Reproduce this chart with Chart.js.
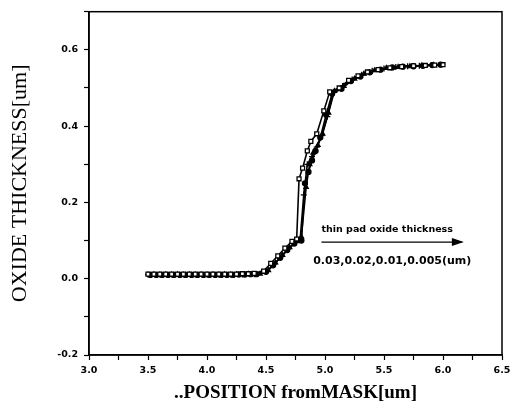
<!DOCTYPE html>
<html>
<head>
<meta charset="utf-8">
<script src="https://cdn.jsdelivr.net/npm/chart.js@4"></script>
<style>
    html, body { margin: 0; padding: 0; background: #fff; }
    #wrap { width: 522px; height: 412px; }
</style>
</head>
<body>
<div id="wrap"><canvas id="myChart" width="522" height="412"></canvas></div>
<script>
(function () {
    "use strict";

    // series, one per pad oxide thickness
    var seriesNames = ["0.03", "0.02", "0.01", "0.005"];

    var xA = [3.50, 3.55, 3.60, 3.65, 3.70, 3.75, 3.80, 3.85, 3.90, 3.95, 4.00, 4.05, 4.10, 4.15, 4.20, 4.25, 4.30, 4.35, 4.40, 4.48, 4.54, 4.60, 4.66, 4.72, 4.76, 4.78, 4.81, 4.85, 4.88, 4.93, 4.99, 5.04, 5.12, 5.20, 5.28, 5.36, 5.45, 5.55, 5.65, 5.75, 5.85, 5.93, 6.00];
    var yA = [0.012, 0.012, 0.012, 0.012, 0.012, 0.012, 0.012, 0.012, 0.012, 0.012, 0.012, 0.012, 0.012, 0.012, 0.012, 0.012, 0.013, 0.013, 0.014, 0.020, 0.040, 0.060, 0.080, 0.098, 0.104, 0.262, 0.290, 0.335, 0.360, 0.380, 0.440, 0.490, 0.500, 0.520, 0.532, 0.542, 0.548, 0.553, 0.556, 0.558, 0.559, 0.560, 0.561];

    var xB = [3.52, 3.57, 3.62, 3.67, 3.72, 3.77, 3.82, 3.87, 3.92, 3.97, 4.02, 4.07, 4.12, 4.17, 4.22, 4.27, 4.32, 4.37, 4.42, 4.50, 4.56, 4.62, 4.68, 4.74, 4.80, 4.83, 4.86, 4.89, 4.92, 4.96, 5.01, 5.06, 5.14, 5.22, 5.30, 5.38, 5.47, 5.57, 5.66, 5.75, 5.83, 5.91, 5.98];
    var yB = [0.010, 0.010, 0.010, 0.010, 0.010, 0.010, 0.010, 0.010, 0.010, 0.010, 0.010, 0.010, 0.010, 0.010, 0.010, 0.011, 0.011, 0.012, 0.012, 0.018, 0.035, 0.055, 0.075, 0.092, 0.100, 0.250, 0.280, 0.310, 0.335, 0.370, 0.430, 0.485, 0.498, 0.518, 0.530, 0.541, 0.548, 0.554, 0.556, 0.557, 0.558, 0.560, 0.561];

    var xC = [3.50, 3.60, 3.70, 3.80, 3.90, 4.00, 4.10, 4.20, 4.30, 4.40, 4.50, 4.57, 4.63, 4.69, 4.75, 4.79, 4.82, 4.85, 4.89, 4.93, 4.97, 5.02, 5.07, 5.15, 5.23, 5.31, 5.40, 5.50, 5.60, 5.70, 5.80, 5.90];
    var yC = [0.011, 0.011, 0.011, 0.011, 0.011, 0.011, 0.011, 0.011, 0.011, 0.012, 0.018, 0.038, 0.058, 0.078, 0.095, 0.105, 0.220, 0.300, 0.320, 0.345, 0.375, 0.425, 0.488, 0.505, 0.522, 0.535, 0.545, 0.551, 0.555, 0.557, 0.558, 0.560];

    var xD = [3.55, 3.65, 3.75, 3.85, 3.95, 4.05, 4.15, 4.25, 4.35, 4.45, 4.52, 4.58, 4.64, 4.70, 4.76, 4.80, 4.84, 4.87, 4.90, 4.94, 4.98, 5.03, 5.08, 5.16, 5.25, 5.33, 5.42, 5.52, 5.62, 5.72, 5.82, 5.92];
    var yD = [0.011, 0.011, 0.011, 0.011, 0.011, 0.011, 0.011, 0.011, 0.012, 0.013, 0.022, 0.042, 0.062, 0.082, 0.098, 0.110, 0.240, 0.300, 0.330, 0.350, 0.380, 0.435, 0.492, 0.505, 0.524, 0.537, 0.546, 0.552, 0.555, 0.557, 0.559, 0.560];

    var xTicks = { min: 3.0, max: 6.5, step: 0.25 };
    var yTicks = { min: -0.2, max: 0.7, step: 0.1 };

    var noteTop = "thin pad oxide thickness";
    var noteBottom = "0.03,0.02,0.01,0.005(um)";

    function pts(xs, ys) {
        return xs.map(function (x, i) { return { x: x, y: ys[i] }; });
    }

    function label(v, per) {
        if (Math.round(v * per) % 2 !== 0) return "";
        var s = v.toFixed(1);
        return s === "-0.0" ? "0.0" : s;
    }

    var styles = [
        { pointStyle: "rect", fill: "#fff", radius: 2.8 },
        { pointStyle: "circle", fill: "#000", radius: 2.5 },
        { pointStyle: "cross", fill: "#000", radius: 3 },
        { pointStyle: "triangle", fill: "#000", radius: 2.5 }
    ];
    var xsAll = [xA, xB, xC, xD];
    var ysAll = [yA, yB, yC, yD];

    var datasets = seriesNames.map(function (name, i) {
        return {
            label: name,
            data: pts(xsAll[i], ysAll[i]),
            borderColor: "#000",
            borderWidth: 1.6,
            pointStyle: styles[i].pointStyle,
            pointRadius: styles[i].radius,
            pointBackgroundColor: styles[i].fill,
            pointBorderColor: "#000",
            pointBorderWidth: 1.3,
            showLine: true,
            tension: 0
        };
    });

    // frame + arrow note
    var extras = {
        id: "extras",
        afterDraw: function (chart) {
            var c = chart.ctx;
            var a = chart.chartArea;
            var xs = chart.scales.x;
            var ys = chart.scales.y;
            c.save();
            c.strokeStyle = "#000";
            c.lineWidth = 1.5;
            c.strokeRect(a.left, a.top, a.right - a.left, a.bottom - a.top);

            c.fillStyle = "#000";
            c.textBaseline = "middle";
            c.textAlign = "left";
            c.font = "bold 9.5px 'DejaVu Sans'";
            c.fillText(noteTop, xs.getPixelForValue(4.97), ys.getPixelForValue(0.13));

            var ay = ys.getPixelForValue(0.096);
            var ax0 = xs.getPixelForValue(4.97);
            var ax1 = xs.getPixelForValue(6.16);
            c.lineWidth = 1.2;
            c.beginPath();
            c.moveTo(ax0, ay);
            c.lineTo(ax1, ay);
            c.stroke();
            c.beginPath();
            c.moveTo(ax1 + 2, ay);
            c.lineTo(ax1 - 10, ay - 4);
            c.lineTo(ax1 - 10, ay + 4);
            c.closePath();
            c.fill();

            c.font = "bold 11px 'DejaVu Sans'";
            c.fillText(noteBottom, xs.getPixelForValue(4.90), ys.getPixelForValue(0.045));
            c.restore();
        }
    };

    var tickFont = { family: "'DejaVu Sans'", size: 9.5, weight: "bold" };

    var ctx = document.getElementById("myChart");
    var myChart = new Chart(ctx, {
        type: "scatter",
        data: { datasets: datasets },
        plugins: [extras],
        options: {
            responsive: false,
            animation: false,
            layout: { padding: { top: 7, right: 20, left: 0, bottom: 0 } },
            scales: {
                x: {
                    type: "linear",
                    min: xTicks.min,
                    max: xTicks.max,
                    afterFit: function (s) { s.height = 57; },
                    border: { color: "#000", width: 1.5 },
                    grid: { drawOnChartArea: false, color: "#000", tickLength: 5, tickWidth: 1.2 },
                    ticks: {
                        stepSize: xTicks.step,
                        autoSkip: false,
                        maxRotation: 0,
                        padding: 5,
                        color: "#000",
                        font: tickFont,
                        callback: function (v) { return label(v, 4); }
                    },
                    title: {
                        display: true,
                        text: "..POSITION fromMASK[um]",
                        color: "#000",
                        font: { family: "'Liberation Serif'", size: 19, weight: "bold" },
                        padding: { top: 4, bottom: 8 }
                    }
                },
                y: {
                    type: "linear",
                    min: yTicks.min,
                    max: yTicks.max,
                    afterFit: function (s) { s.width = 89; },
                    border: { color: "#000", width: 1.5 },
                    grid: { drawOnChartArea: false, color: "#000", tickLength: 5, tickWidth: 1.2 },
                    ticks: {
                        stepSize: yTicks.step,
                        autoSkip: false,
                        padding: 6,
                        color: "#000",
                        font: tickFont,
                        callback: function (v) { return label(v, 10); }
                    },
                    title: {
                        display: true,
                        text: "OXIDE THICKNESS[um]",
                        color: "#000",
                        font: { family: "'Liberation Serif'", size: 22 },
                        padding: { top: 7, bottom: 4 }
                    }
                }
            },
            plugins: {
                legend: { display: false },
                tooltip: { enabled: false }
            }
        }
    });
})();
</script>
</body>
</html>
